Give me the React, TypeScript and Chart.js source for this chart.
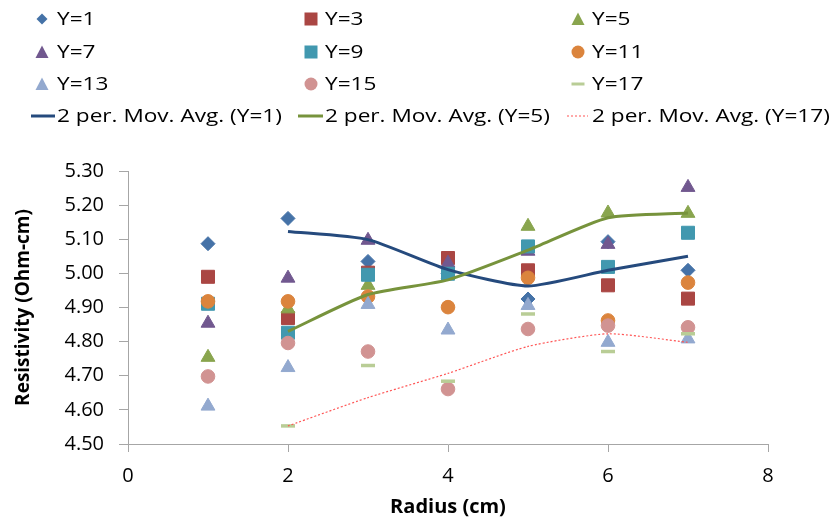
import React, { useEffect, useRef } from 'react';
import { Chart, registerables } from 'chart.js';

Chart.register(...registerables);

// ---- data ----
const radius = [1, 2, 3, 4, 5, 6, 7];
const maRadius = [2, 3, 4, 5, 6, 7];

const y1 = [5.087, 5.161, 5.035, 4.999, 4.925, 5.093, 5.009];
const y3 = [4.990, 4.869, 5.002, 5.045, 5.009, 4.965, 4.926];
const y5 = [4.754, 4.896, 4.965, 4.997, 5.138, 5.177, 5.176];
const y7 = [4.854, 4.986, 5.097, 5.030, 5.065, 5.085, 5.252];
const y9 = [4.911, 4.826, 4.996, 4.999, 5.079, 5.019, 5.119];
const y11 = [4.918, 4.918, 4.932, 4.901, 4.987, 4.862, 4.973];
const y13 = [4.611, 4.724, 4.909, 4.834, 4.906, 4.798, 4.808];
const y15 = [4.698, 4.796, 4.771, 4.661, 4.837, 4.847, 4.842];
const y17 = [null, 4.553, 4.730, 4.684, 4.881, 4.771, 4.823];

const ma1 = [5.123, 5.099, 5.011, 4.963, 5.009, 5.050];
const ma5 = [4.830, 4.938, 4.981, 5.068, 5.163, 5.177];
const ma17 = [4.553, 4.636, 4.707, 4.786, 4.823, 4.798];

const xTickValues = [0, 2, 4, 6, 8];
const yTickValues = [4.5, 4.6, 4.7, 4.8, 4.9, 5.0, 5.1, 5.2, 5.3];

const seriesLabels = ['Y=1', 'Y=3', 'Y=5', 'Y=7', 'Y=9', 'Y=11', 'Y=13', 'Y=15', 'Y=17'];
const seriesValues = [y1, y3, y5, y7, y9, y11, y13, y15, y17];
const maLabels = ['2 per. Mov. Avg. (Y=1)', '2 per. Mov. Avg. (Y=5)', '2 per. Mov. Avg. (Y=17)'];
const maValues = [ma1, ma5, ma17];

// ---- styles ----
const FONT = '"Open Sans", sans-serif';
const markerStyles = [
  { shape: 'rectRot', color: '#4572A7', r: 7 },
  { shape: 'rect', color: '#AA4643', r: 9.2 },
  { shape: 'triangle', color: '#89A54E', r: 8 },
  { shape: 'triangle', color: '#71588F', r: 8 },
  { shape: 'rect', color: '#4198AF', r: 9.2 },
  { shape: 'circle', color: '#DB843D', r: 6.8 },
  { shape: 'triangle', color: '#93A9CF', r: 8 },
  { shape: 'circle', color: '#D19392', r: 6.8 },
  { shape: 'line', color: '#B9CD96', r: 7 },
];
const maStyles = [
  { color: '#254A7D', width: 3, dash: [] as number[] },
  { color: '#77933C', width: 3, dash: [] as number[] },
  { color: '#FF5555', width: 1.2, dash: [2, 2] },
];

const legendColX = [42, 311, 578];
const legendTextX = [57, 325, 592];
const legendRowY = [19, 52, 84, 116];
const legendLineSeg = [[31, 55], [298, 323], [567, 588]];

const legendPlugin = {
  id: 'customLegend',
  afterDraw(chart: any) {
    const ctx = chart.ctx as CanvasRenderingContext2D;
    ctx.save();
    ctx.font = `19px ${FONT}`;
    ctx.textBaseline = 'middle';
    ctx.textAlign = 'left';
    const drawText = (t: string, x: number, y: number) => {
      ctx.save();
      ctx.translate(x, y);
      ctx.scale(1.19, 1);
      ctx.fillStyle = '#000';
      ctx.fillText(t, 0, 1);
      ctx.restore();
    };
    seriesLabels.forEach((label, i) => {
      const row = Math.floor(i / 3);
      const col = i % 3;
      const cx = legendColX[col];
      const cy = legendRowY[row];
      const st = markerStyles[i];
      ctx.fillStyle = st.color;
      ctx.strokeStyle = st.color;
      ctx.beginPath();
      if (st.shape === 'rectRot') {
        ctx.moveTo(cx, cy - 5.5);
        ctx.lineTo(cx + 5.5, cy);
        ctx.lineTo(cx, cy + 5.5);
        ctx.lineTo(cx - 5.5, cy);
        ctx.closePath();
        ctx.fill();
      } else if (st.shape === 'rect') {
        ctx.fillRect(cx - 6.5, cy - 6.5, 13, 13);
      } else if (st.shape === 'triangle') {
        ctx.moveTo(cx, cy - 6.5);
        ctx.lineTo(cx + 6.5, cy + 6);
        ctx.lineTo(cx - 6.5, cy + 6);
        ctx.closePath();
        ctx.fill();
      } else if (st.shape === 'circle') {
        ctx.arc(cx, cy, 6.5, 0, Math.PI * 2);
        ctx.fill();
      } else if (st.shape === 'line') {
        ctx.lineWidth = 3;
        ctx.moveTo(cx - 6.5, cy);
        ctx.lineTo(cx + 6.5, cy);
        ctx.stroke();
      }
      drawText(label, legendTextX[col], cy);
    });
    maLabels.forEach((label, i) => {
      const cy = legendRowY[3];
      const st = maStyles[i];
      ctx.beginPath();
      ctx.strokeStyle = st.color;
      ctx.lineWidth = st.width;
      ctx.setLineDash(st.dash);
      ctx.moveTo(legendLineSeg[i][0], cy);
      ctx.lineTo(legendLineSeg[i][1], cy);
      ctx.stroke();
      ctx.setLineDash([]);
      drawText(label, legendTextX[i], cy);
    });
    ctx.restore();
  },
};

export default function App() {
  const ref = useRef<HTMLCanvasElement | null>(null);

  useEffect(() => {
    document.body.style.margin = '0';
    const canvas = ref.current;
    if (!canvas) return;

    const scatterSets = seriesLabels.map((label, i) => {
      const st = markerStyles[i];
      return {
        label,
        data: radius.map((x, k) => ({ x, y: seriesValues[i][k] })).filter((p) => p.y !== null),
        pointStyle: st.shape,
        pointRadius: st.r,
        pointHoverRadius: st.r,
        pointBackgroundColor: st.color,
        pointBorderColor: st.color,
        pointBorderWidth: st.shape === 'line' ? 3.5 : 1,
        backgroundColor: st.color,
        borderColor: st.color,
        showLine: false,
        order: 30 - i,
      };
    });
    const maSets = maLabels.map((label, i) => {
      const st = maStyles[i];
      return {
        label,
        data: maRadius.map((x, k) => ({ x, y: maValues[i][k] })),
        showLine: true,
        pointRadius: 0,
        pointHoverRadius: 0,
        borderColor: st.color,
        backgroundColor: st.color,
        borderWidth: st.width,
        borderDash: st.dash,
        tension: 0.2,
        fill: false,
        order: 5 - i,
      };
    });

    const chart = new Chart(canvas, {
      type: 'scatter',
      data: { datasets: [...scatterSets, ...maSets] as any },
      options: {
        animation: false,
        responsive: false,
        maintainAspectRatio: false,
        layout: { padding: { top: 171, right: 64, bottom: 0, left: 0 } },
        plugins: {
          legend: { display: false },
          tooltip: { enabled: false },
        },
        scales: {
          x: {
            type: 'linear',
            min: 0,
            max: 8,
            afterBuildTicks: (scale: any) => {
              scale.ticks = xTickValues.map((v) => ({ value: v }));
            },
            afterFit: (scale: any) => {
              scale.height = 74;
            },
            ticks: {
              color: '#000',
              font: { family: FONT, size: 20 },
              padding: 12,
              maxRotation: 0,
              callback: (v: any) => String(v),
            },
            grid: {
              display: true,
              drawOnChartArea: false,
              drawTicks: true,
              tickLength: 8,
              color: '#A6A6A6',
            },
            border: { display: true, color: '#A6A6A6', width: 1 },
            title: {
              display: true,
              text: 'Radius (cm)',
              color: '#000',
              font: { family: FONT, size: 20, weight: 'bold', lineHeight: 1.1 },
              padding: { top: 0, bottom: 0 },
            },
          },
          y: {
            type: 'linear',
            min: 4.5,
            max: 5.3,
            afterBuildTicks: (scale: any) => {
              scale.ticks = yTickValues.map((v) => ({ value: v }));
            },
            afterFit: (scale: any) => {
              scale.width = 128;
            },
            ticks: {
              color: '#000',
              font: { family: FONT, size: 20 },
              padding: 15,
              callback: (v: any) => Number(v).toFixed(2),
            },
            grid: {
              display: true,
              drawOnChartArea: false,
              drawTicks: true,
              tickLength: 9,
              color: '#A6A6A6',
            },
            border: { display: true, color: '#A6A6A6', width: 1 },
            title: {
              display: true,
              text: 'Resistivity (Ohm-cm)',
              color: '#000',
              font: { family: FONT, size: 19, weight: 'bold', lineHeight: 1.2 },
              padding: { top: 12, bottom: 0 },
            },
          },
        },
      } as any,
      plugins: [legendPlugin],
    });
    return () => chart.destroy();
  }, []);

  return (
    <div style={{ width: 832, height: 518, position: 'relative', background: '#fff' }}>
      <canvas ref={ref} width={832} height={518} style={{ display: 'block', width: 832, height: 518 }} />
    </div>
  );
}
